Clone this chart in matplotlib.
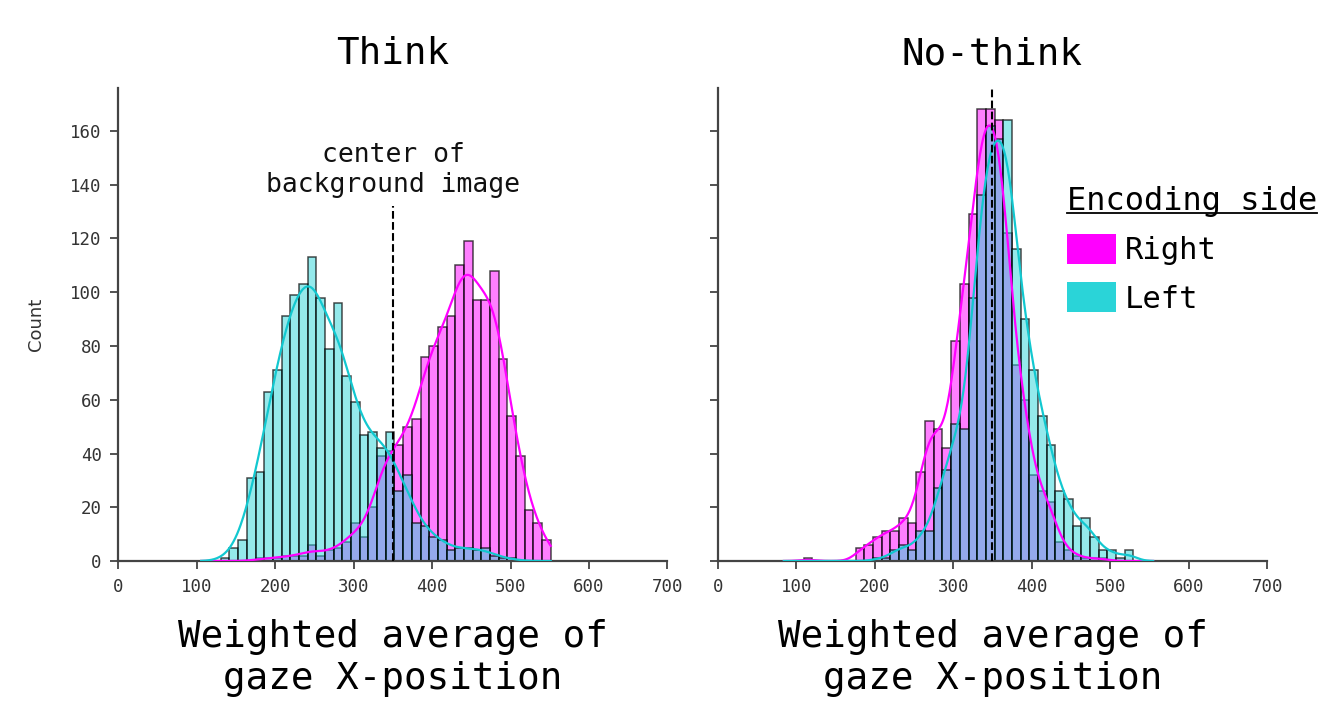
import matplotlib
matplotlib.use('Agg')
import matplotlib.pyplot as plt
import numpy as np
from matplotlib.patches import Patch
from matplotlib.lines import Line2D

# Data: counts per bin (38 equal bins per panel)
think_range = (130.5, 551.2)
think_right = [0, 0, 0, 0, 1, 1, 1, 2, 2, 2,
               6, 2, 4, 5, 7, 14, 9, 20, 39, 41,
               43, 50, 53, 76, 80, 87, 91, 110, 119, 97,
               97, 108, 75, 54, 39, 19, 14, 8]
think_left = [1, 5, 8, 31, 33, 63, 71, 91, 99, 103,
              113, 98, 79, 96, 69, 59, 47, 48, 42, 48,
              26, 32, 14, 13, 9, 8, 4, 5, 5, 4,
              5, 2, 1, 1, 0, 0, 0, 0]

nothink_range = (109.3, 529.6)
nothink_right = [1, 0, 0, 0, 0, 0, 5, 6, 9, 11,
                 11, 16, 14, 33, 52, 49, 42, 82, 103, 129,
                 168, 168, 164, 122, 73, 60, 32, 26, 22, 7,
                 4, 2, 1, 1, 1, 0, 0, 0]
nothink_left = [0, 0, 0, 0, 0, 0, 0, 0, 1, 1,
                4, 6, 4, 11, 11, 27, 34, 51, 49, 98,
                136, 162, 157, 164, 116, 90, 71, 54, 43, 26,
                23, 13, 16, 9, 4, 4, 1, 4]

panel_titles = ['Think', 'No-think']
groups = ['Right', 'Left']
bar_colors = {'Right': '#ff00ff', 'Left': '#2ad4d8'}
line_colors = {'Right': '#ff00ff', 'Left': '#12c8d0'}
center_x = 350

plt.rcParams['font.family'] = ['DejaVu Sans Mono', 'DejaVu Sans']


def kde_curve(edges, counts, xs):
    # gaussian kde of the binned values, scaled to counts (scott bandwidth)
    centers = (edges[:-1] + edges[1:]) / 2
    w = edges[1] - edges[0]
    counts = np.asarray(counts, float)
    n = counts.sum()
    mean = (centers * counts).sum() / n
    std = np.sqrt((counts * (centers - mean) ** 2).sum() / n)
    bw = std * n ** (-0.2)
    z = (xs[:, None] - centers[None, :]) / bw
    dens = (counts * np.exp(-0.5 * z ** 2)).sum(axis=1) / (bw * np.sqrt(2 * np.pi))
    return dens * w


fig = plt.figure(figsize=(13.22, 7.01), dpi=100)
ax1 = fig.add_axes([0.0896, 0.1997, 0.4153, 0.6748])
ax2 = fig.add_axes([0.5429, 0.1997, 0.4157, 0.6748])

panels = [
    (ax1, think_range, {'Right': think_right, 'Left': think_left}, 0),
    (ax2, nothink_range, {'Right': nothink_right, 'Left': nothink_left}, 25),
]

for i, (ax, rng, data, tail) in enumerate(panels):
    n_bins = len(data['Right'])
    edges = np.linspace(rng[0], rng[1], n_bins + 1)
    w = edges[1] - edges[0]
    for g in groups:
        ax.bar(edges[:-1], data[g], width=w, align='edge',
               facecolor=matplotlib.colors.to_rgba(bar_colors[g], 0.5),
               edgecolor=(0, 0, 0, 0.7), linewidth=1.1, zorder=2)
    xs = np.linspace(edges[0] - 25, edges[-1] + tail, 400)
    for g in groups:
        ax.plot(xs, kde_curve(edges, data[g], xs), color=line_colors[g], lw=1.6, zorder=3)

    ax.set_xlim(0, 700)
    ax.set_ylim(0, 176)
    ax.set_xticks(range(0, 701, 100))
    ax.set_yticks(range(0, 161, 20))
    ax.tick_params(labelsize=12.5, labelcolor='#333333', color='#444444',
                   length=6, width=1.3, pad=6)
    for s in ['top', 'right']:
        ax.spines[s].set_visible(False)
    for s in ['left', 'bottom']:
        ax.spines[s].set_color('#444444')
        ax.spines[s].set_linewidth(1.6)
    ax.set_title(panel_titles[i], fontsize=27, pad=17)
    ax.set_xlabel('Weighted average of\ngaze X-position', fontsize=27, labelpad=17,
                  linespacing=1.22)

# reference line at the image center
ax1.plot([center_x, center_x], [0, 132], color='black', ls='--', lw=1.5, zorder=4)
ax1.text(center_x, 135, 'center of\nbackground image', ha='center', va='bottom',
         fontsize=19, color='#111111')
ax2.axvline(center_x, color='black', ls='--', lw=1.5, zorder=4)

ax1.set_ylabel('Count', fontsize=13, color='#333333', labelpad=18, family='DejaVu Sans')
ax2.tick_params(labelleft=False)

handles = [Patch(facecolor=bar_colors[g], edgecolor='none') for g in groups]
leg = fig.legend(handles, groups, title='Encoding side', loc='upper left',
                 bbox_to_anchor=(1067 / 1322, 1 - 186 / 701), frameon=False,
                 fontsize=22, title_fontsize=23, handlelength=1.6, handleheight=1.15,
                 handletextpad=0.3, labelspacing=0.55, borderpad=0, borderaxespad=0,
                 alignment='left')

# underline the legend title
fig.canvas.draw()
bb = leg.get_title().get_window_extent(fig.canvas.get_renderer())
inv = fig.transFigure.inverted()
(x0, y0), (x1, _) = inv.transform([(bb.x0, bb.y0 + 4), (bb.x1, bb.y0 + 4)])
fig.add_artist(Line2D([x0, x1], [y0, y0], transform=fig.transFigure, color='black', lw=1.3))

fig.savefig('out.png', dpi=100)
